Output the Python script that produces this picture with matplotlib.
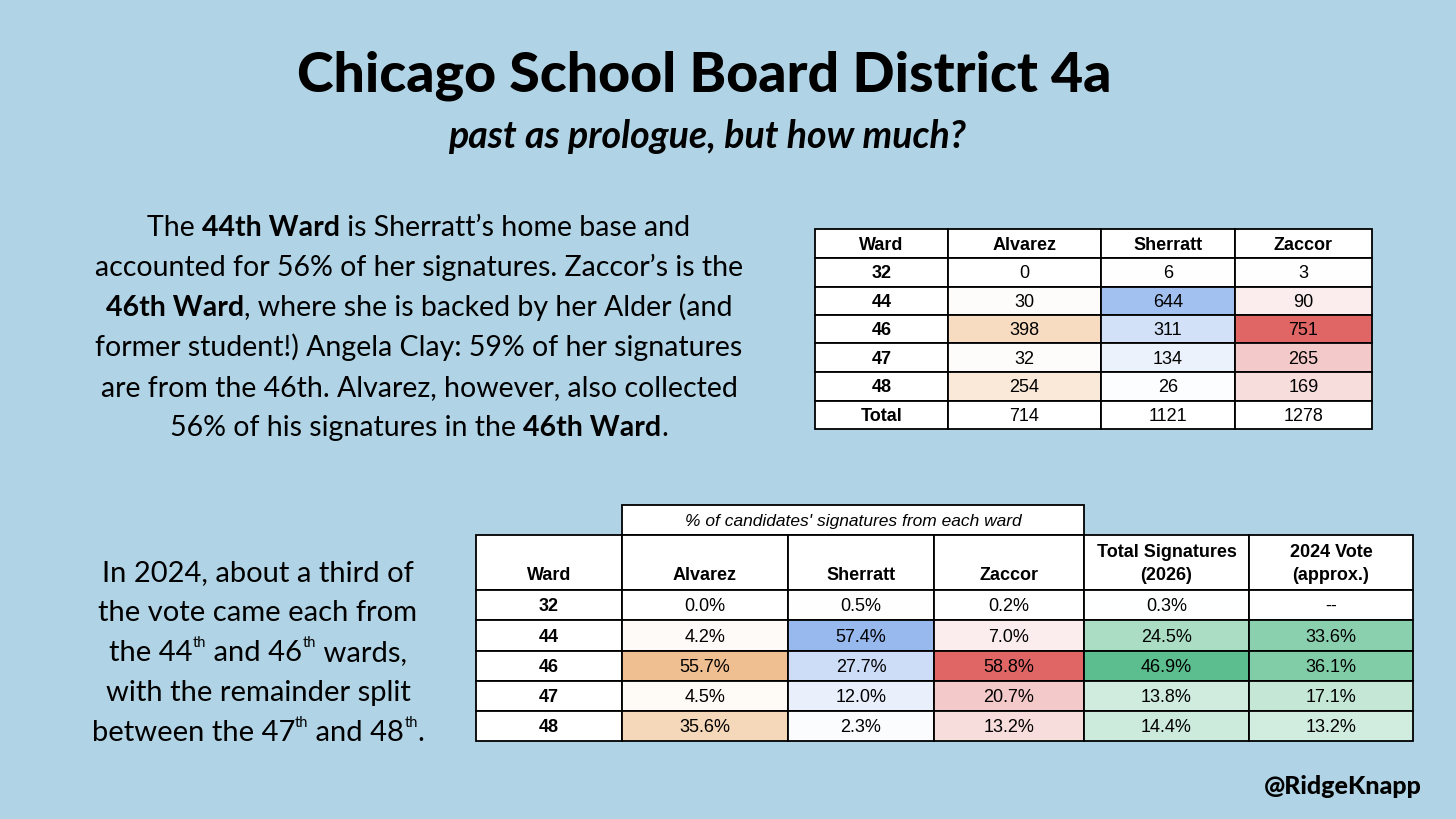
import matplotlib
matplotlib.use("Agg")
import matplotlib.pyplot as plt
from matplotlib.patches import Rectangle
from matplotlib.colors import LinearSegmentedColormap, Normalize

# ---- data ----
wards = ["32", "44", "46", "47", "48"]
candidates = ["Alvarez", "Sherratt", "Zaccor"]
sig_alvarez = [0, 30, 398, 32, 254]
sig_sherratt = [6, 644, 311, 134, 26]
sig_zaccor = [3, 90, 751, 265, 169]
pct_alvarez = [0.0, 4.2, 55.7, 4.5, 35.6]
pct_sherratt = [0.5, 57.4, 27.7, 12.0, 2.3]
pct_zaccor = [0.2, 7.0, 58.8, 20.7, 13.2]
pct_total_sig = [0.3, 24.5, 46.9, 13.8, 14.4]
pct_vote_2024 = [None, 33.6, 36.1, 17.1, 13.2]

BG = "#B0D3E5"
cand_colors = ["#EFBC8B", "#94B7EE", "#E06666"]
green = "#5CBE8E"

fig = plt.figure(figsize=(14.56, 8.19), dpi=100)
fig.patch.set_facecolor(BG)
ax = fig.add_axes([0, 0, 1, 1])
ax.set_xlim(0, 1456)
ax.set_ylim(819, 0)
ax.axis("off")

HEAD = "Lato"
BODY = "Lato"
TAB = "Liberation Sans"

ax.text(704, 76, "Chicago School Board District 4a", ha="center", va="center",
        fontsize=40, fontweight="black", family=HEAD, color="black")
ax.text(707, 137, "past as prologue, but how much?", ha="center", va="center",
        fontsize=27, fontweight="bold", style="italic", family=HEAD, color="black")

renderer = fig.canvas.get_renderer()


def seg_width(s, **kw):
    t1 = ax.text(0, 0, "|" + s + "|", **kw)
    t2 = ax.text(0, 0, "||", **kw)
    w = t1.get_window_extent(renderer).width - t2.get_window_extent(renderer).width
    t1.remove()
    t2.remove()
    return w


def rich_line(xc, y, parts, size):
    styles = []
    for s, kind in parts:
        if kind == "b":
            kw = dict(fontsize=size, fontweight="bold", family=BODY)
        elif kind == "sup":
            kw = dict(fontsize=size * 0.5, family=BODY)
        else:
            kw = dict(fontsize=size, family=BODY)
        styles.append((s, kind, kw, seg_width(s, **kw)))
    total = sum(st[3] for st in styles)
    x = xc - total / 2
    for s, kind, kw, w in styles:
        yy = y - size * 0.65 if kind == "sup" else y
        ax.text(x, yy, s, ha="left", va="baseline", color="black", **kw)
        x += w


para1 = [
    [("The ", "n"), ("44th Ward", "b"), (" is Sherratt\u2019s home base and", "n")],
    [("accounted for 56% of her signatures. Zaccor\u2019s is the", "n")],
    [("46th Ward", "b"), (", where she is backed by her Alder (and", "n")],
    [("former student!) Angela Clay: 59% of her signatures", "n")],
    [("are from the 46th. Alvarez, however, also collected", "n")],
    [("56% of his signatures in the ", "n"), ("46th Ward", "b"), (".", "n")],
]
for i, line in enumerate(para1):
    rich_line(419, 236 + i * 40, line, 20.5)

para2 = [
    [("In 2024, about a third of", "n")],
    [("the vote came each from", "n")],
    [("the 44", "n"), ("th", "sup"), (" and 46", "n"), ("th", "sup"), (" wards,", "n")],
    [("with the remainder split", "n")],
    [("between the 47", "n"), ("th", "sup"), (" and 48", "n"), ("th", "sup"), (".", "n")],
]
for i, line in enumerate(para2):
    rich_line(258, 581 + i * 40, line, 21)

ax.text(1343, 786, "@RidgeKnapp", ha="center", va="center", fontsize=18,
        fontweight="black", family=HEAD, color="black")


def cell(x0, x1, y0, y1, fc="white"):
    ax.add_patch(Rectangle((x0, y0), x1 - x0, y1 - y0, facecolor=fc,
                           edgecolor="black", lw=1.3, zorder=2))


def ctext(x, y, s, bold=False, size=13, italic=False):
    ax.text(x, y + 1.5, s, ha="center", va="center", fontsize=size, family=TAB,
            fontweight="bold" if bold else "normal",
            style="italic" if italic else "normal", color="black", zorder=3)


def cmap_for(c):
    return LinearSegmentedColormap.from_list("", ["white", c])


# ---- top table: signature counts ----
sig_cols = [sig_alvarez, sig_sherratt, sig_zaccor]
totals = [sum(c) for c in sig_cols]
tx = [815, 948, 1101, 1235, 1372]
ty = [229, 258, 287, 315, 343, 372, 401, 429]
norm_sig = Normalize(0, max(max(c) for c in sig_cols))

cell(tx[0], tx[1], ty[0], ty[1])
ctext((tx[0] + tx[1]) / 2, (ty[0] + ty[1]) / 2, "Ward", bold=True)
for j, name in enumerate(candidates):
    cell(tx[j + 1], tx[j + 2], ty[0], ty[1])
    ctext((tx[j + 1] + tx[j + 2]) / 2, (ty[0] + ty[1]) / 2, name, bold=True)
for i, w in enumerate(wards):
    y0, y1 = ty[i + 1], ty[i + 2]
    cell(tx[0], tx[1], y0, y1)
    ctext((tx[0] + tx[1]) / 2, (y0 + y1) / 2, w, bold=True)
    for j, col in enumerate(sig_cols):
        fc = cmap_for(cand_colors[j])(norm_sig(col[i]))
        cell(tx[j + 1], tx[j + 2], y0, y1, fc)
        ctext((tx[j + 1] + tx[j + 2]) / 2, (y0 + y1) / 2, str(col[i]))
y0, y1 = ty[6], ty[7]
cell(tx[0], tx[1], y0, y1)
ctext((tx[0] + tx[1]) / 2, (y0 + y1) / 2, "Total", bold=True)
for j, t in enumerate(totals):
    cell(tx[j + 1], tx[j + 2], y0, y1)
    ctext((tx[j + 1] + tx[j + 2]) / 2, (y0 + y1) / 2, str(t))

# ---- bottom table: shares ----
bx = [476, 622, 788, 934, 1084, 1249, 1413]
by = [535, 590, 620, 651, 681, 711, 741]
pct_cols = [pct_alvarez, pct_sherratt, pct_zaccor]
norm_pct = Normalize(0, max(max(c) for c in pct_cols))
norm_green = Normalize(0, max(max(pct_total_sig), max(v for v in pct_vote_2024 if v is not None)))

cell(bx[1], bx[4], 505, 535)
ctext((bx[1] + bx[4]) / 2, 520, "% of candidates' signatures from each ward", italic=True, size=12.5)

headers = ["Ward"] + candidates + ["Total Signatures\n(2026)", "2024 Vote\n(approx.)"]
for j, h in enumerate(headers):
    cell(bx[j], bx[j + 1], by[0], by[1])
    xm = (bx[j] + bx[j + 1]) / 2
    lines = h.split("\n")
    if len(lines) == 2:
        ctext(xm, 551, lines[0], bold=True)
        ctext(xm, 574, lines[1], bold=True)
    else:
        ctext(xm, 574, h, bold=True)

gcmap = cmap_for(green)
for i, w in enumerate(wards):
    y0, y1 = by[i + 1], by[i + 2]
    ym = (y0 + y1) / 2
    cell(bx[0], bx[1], y0, y1)
    ctext((bx[0] + bx[1]) / 2, ym, w, bold=True)
    for j, col in enumerate(pct_cols):
        fc = cmap_for(cand_colors[j])(norm_pct(col[i]))
        cell(bx[j + 1], bx[j + 2], y0, y1, fc)
        ctext((bx[j + 1] + bx[j + 2]) / 2, ym, f"{col[i]:.1f}%")
    for k, col in enumerate([pct_total_sig, pct_vote_2024]):
        v = col[i]
        fc = "white" if v is None else gcmap(norm_green(v))
        cell(bx[4 + k], bx[5 + k], y0, y1, fc)
        ctext((bx[4 + k] + bx[5 + k]) / 2, ym, "--" if v is None else f"{v:.1f}%")

fig.savefig("out.png", dpi=100, facecolor=BG)
